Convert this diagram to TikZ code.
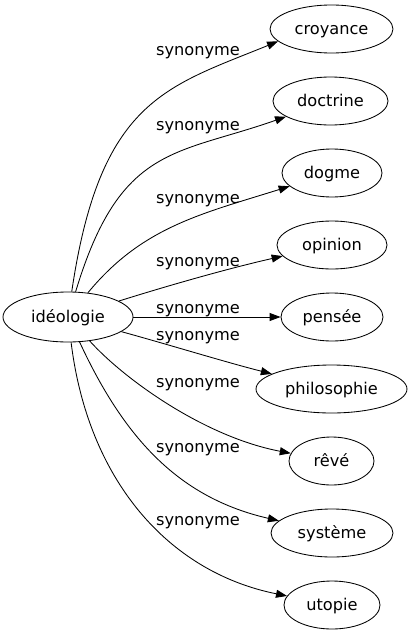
\documentclass[tikz,border=0pt]{standalone}
\usepackage{fontspec}
\setmainfont{DejaVu Sans}
\usetikzlibrary{shapes.geometric,arrows.meta}
\begin{document}
\begin{tikzpicture}[x=1pt,y=-1pt,
  word/.style={draw, ellipse, line width=0.85pt, inner sep=0pt, minimum height=48pt,
    font=\fontsize{16.2}{19}\selectfont, text height=15pt, text depth=4pt},
  rel/.style={font=\fontsize{16.2}{19}\selectfont, anchor=base, inner sep=0pt},
  link/.style={draw, line width=0.85pt, -{Triangle[length=11pt,width=8pt]}}]
\useasboundingbox (0,0) rectangle (412,635);
\node[word, minimum width=130pt, minimum height=50pt] (src) at (68,317) {idéologie};
\node[word, minimum width=123pt] (n1) at (331.5,29) {croyance};
\node[word, minimum width=115pt] (n2) at (330.5,101) {doctrine};
\node[word, minimum width=100pt] (n3) at (332,173) {dogme};
\node[word, minimum width=110pt] (n4) at (332,245) {opinion};
\node[word, minimum width=102pt] (n5) at (332,317) {pensée};
\node[word, minimum width=151pt] (n6) at (331.5,389) {philosophie};
\node[word, minimum width=85pt] (n7) at (331.5,461) {rêvé};
\node[word, minimum width=122pt] (n8) at (332,533) {système};
\node[word, minimum width=96pt] (n9) at (332,605) {utopie};
\node[rel] (l1) at (198,55) {synonyme};
\node[rel] (l2) at (198,130) {synonyme};
\node[rel] (l3) at (198,203) {synonyme};
\node[rel] (l4) at (198,266) {synonyme};
\node[rel] (l5) at (198,313.5) {synonyme};
\node[rel] (l6) at (198,340) {synonyme};
\node[rel] (l7) at (198,387) {synonyme};
\node[rel] (l8) at (198,452) {synonyme};
\node[rel] (l9) at (198,525) {synonyme};
\draw[link] (src) .. controls (100,100) and (166,87) .. (n1.193);
\draw[link] (src) .. controls (120,144.6) and (175.5,155.5) .. (n2);
\draw[link] (src) .. controls (142,227) and (201,214) .. (n3);
\draw[link] (src) .. controls (170,285) and (230,268) .. (n4);
\draw[link] (src) -- (n5);
\draw[link] (src) .. controls (170,345) and (225,362) .. (n6);
\draw[link] (src) .. controls (125,380) and (205,437) .. (n7);
\draw[link] (src) .. controls (125,440) and (180,498) .. (n8);
\draw[link] (src) .. controls (88,480) and (168,572) .. (n9);
\end{tikzpicture}
\end{document}
